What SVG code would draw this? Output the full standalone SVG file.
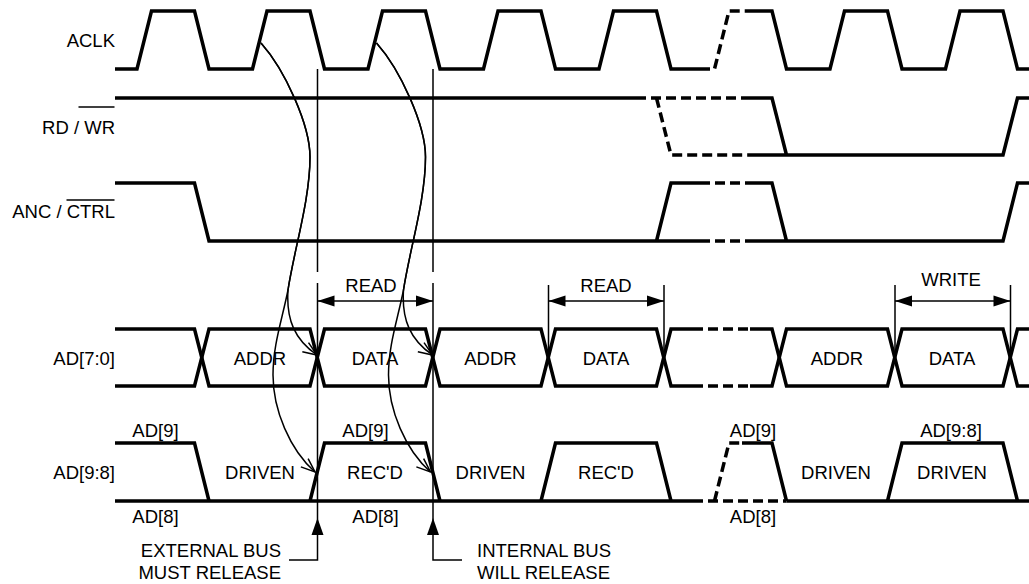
<svg xmlns="http://www.w3.org/2000/svg" width="1029" height="584" viewBox="0 0 1029 584">
<defs>
<style>
.sig{fill:none;stroke:#000;stroke-width:3.5;stroke-linejoin:miter;stroke-linecap:butt}
.dash{stroke-dasharray:10 5}
.thin{fill:none;stroke:#000;stroke-width:1.5}
text{font-family:"Liberation Sans",Arial,sans-serif;font-size:18.5px;fill:#000}
.e{text-anchor:end}
.m{text-anchor:middle}
</style>
<marker id="oa" viewBox="-16 -8 18 16" refX="0" refY="0" markerWidth="18" markerHeight="16" markerUnits="userSpaceOnUse" orient="auto">
<path d="M-14,-5.5 L0,0 L-14,5.5" fill="none" stroke="#000" stroke-width="1.5"/>
</marker>
<marker id="fa" viewBox="-18 -7 19 14" refX="0" refY="0" markerWidth="19" markerHeight="14" markerUnits="userSpaceOnUse" orient="auto-start-reverse">
<path d="M0,0 L-17,-5.5 L-17,5.5 Z" fill="#000"/>
</marker>
</defs>
<rect width="1029" height="584" fill="#fff"/>

<g id="labels">
<text class="e" x="115" y="47">ACLK</text>
<text class="e" x="115" y="133.5">RD / WR</text>
<line x1="78.5" y1="107" x2="114.5" y2="107" stroke="#000" stroke-width="1.3"/>
<text class="e" x="115" y="217.5">ANC / CTRL</text>
<line x1="66.5" y1="200" x2="114.5" y2="200" stroke="#000" stroke-width="1.3"/>
<text class="e" x="115" y="365">AD[7:0]</text>
<text class="e" x="115" y="479">AD[9:8]</text>
</g>

<g id="aclk">
<path class="sig" d="M115,69 H137 L151.5,11 H194.5 L209,69 H252.5 L267,11 H310 L324.5,69 H368 L382.5,11 H425.5 L440,69 H483.5 L498,11 H541 L555.5,69 H599 L613.5,11 H656.5 L671,69 H700"/>
<path class="sig dash" d="M700,69 H714.5 L729,11 H749"/>
<path class="sig" d="M749,11 H772 L786.5,69 H830 L844.5,11 H887.5 L902,69 H945.5 L960,11 H1003 L1017.5,69 H1029"/>
</g>

<g id="rdwr">
<path class="sig" d="M115,98 H636"/>
<path class="sig dash" d="M636,98 H749 M656.5,98 L671,155 H749"/>
<path class="sig" d="M749,98 H772 L786.5,155 M749,155 H1003 L1017.5,98 H1029"/>
</g>

<g id="anc">
<path class="sig" d="M115,183 H194.5 L209,241 H700 M656.5,241 L671,183 H700"/>
<path class="sig dash" d="M700,183 H749 M700,241 H749"/>
<path class="sig" d="M749,183 H772 L786.5,241 M749,241 H1003 L1017.5,183 H1029"/>
</g>

<g id="ad70">
<path class="sig" d="M115,329 H194.5 L209,386 H310 L324.5,329 H425.5 L440,386 H541 L555.5,329 H656.5 L671,386 H693"/>
<path class="sig" d="M115,386 H194.5 L209,329 H310 L324.5,386 H425.5 L440,329 H541 L555.5,386 H656.5 L671,329 H693"/>
<path class="sig dash" d="M693,329 H750 M693,386 H750"/>
<path class="sig" d="M750,329 H772 L786.5,386 H887.5 L902,329 H1003 L1017.5,386 H1029"/>
<path class="sig" d="M750,386 H772 L786.5,329 H887.5 L902,386 H1003 L1017.5,329 H1029"/>
<text class="m" x="260" y="364.5">ADDR</text>
<text class="m" x="375" y="364.5">DATA</text>
<text class="m" x="490.5" y="364.5">ADDR</text>
<text class="m" x="606" y="364.5">DATA</text>
<text class="m" x="837" y="364.5">ADDR</text>
<text class="m" x="952" y="364.5">DATA</text>
</g>

<g id="ad98">
<path class="sig" d="M115,501 H693 M786.5,501 H1029"/>
<path class="sig dash" d="M693,501 H786.5"/>
<path class="sig" d="M115,443 H194.5 L209,501 M310,501 L324.5,443 H425.5 L440,501 M541,501 L555.5,443 H656.5 L671,501 M742,443 H772 L786.5,501 M887.5,501 L902,443 H1003 L1017.5,501"/>
<path class="sig dash" d="M714.5,501 L729,443 H742"/>
<text class="m" x="260" y="479">DRIVEN</text>
<text class="m" x="375" y="479">REC'D</text>
<text class="m" x="490.5" y="479">DRIVEN</text>
<text class="m" x="606" y="479">REC'D</text>
<text class="m" x="836" y="479">DRIVEN</text>
<text class="m" x="952" y="479">DRIVEN</text>
<text class="m" x="155.5" y="437">AD[9]</text>
<text class="m" x="155.5" y="523">AD[8]</text>
<text class="m" x="365.5" y="437">AD[9]</text>
<text class="m" x="375.5" y="523">AD[8]</text>
<text class="m" x="753" y="437">AD[9]</text>
<text class="m" x="753" y="523">AD[8]</text>
<text class="m" x="951" y="437">AD[9:8]</text>
</g>

<g id="connectors">
<path class="thin" d="M317.5,69 V272 M317.5,283 V560 H289"/>
<path class="thin" d="M433,69 V272 M433,283 V560 H462"/>
<polygon points="317.5,518 311.5,535 323.5,535" fill="#000"/>
<polygon points="433,518 427,535 439,535" fill="#000"/>
<path class="thin" d="M548.5,285 V357 M664,285 V357 M895,285 V357 M1010.5,285 V357"/>
<line class="thin" x1="317.5" y1="301" x2="433" y2="301" marker-start="url(#fa)" marker-end="url(#fa)"/>
<line class="thin" x1="548.5" y1="301" x2="664" y2="301" marker-start="url(#fa)" marker-end="url(#fa)"/>
<line class="thin" x1="895" y1="301" x2="1010.5" y2="301" marker-start="url(#fa)" marker-end="url(#fa)"/>
<g id="curves1">
<path class="thin" d="M261,43 C285,70 310,125 310,157 C310,200 294,250 288,290 C286,320 295,340 317,355" marker-end="url(#oa)"/>
<path class="thin" d="M261,43 C285,70 310,125 310,157 C310,200 294,250 288,290 C282,320 273,345 273,375 C273,410 290,450 315,472" marker-end="url(#oa)"/>
</g>
<g id="curves2" transform="translate(115.5,0)">
<path class="thin" d="M261,43 C285,70 310,125 310,157 C310,200 294,250 288,290 C286,320 295,340 317,355" marker-end="url(#oa)"/>
<path class="thin" d="M261,43 C285,70 310,125 310,157 C310,200 294,250 288,290 C282,320 273,345 273,375 C273,410 290,450 315,472" marker-end="url(#oa)"/>
</g>
</g>

<g id="annotations">
<text class="m" x="371" y="291.5">READ</text>
<text class="m" x="606" y="291.5">READ</text>
<text class="m" x="951" y="286">WRITE</text>
<text class="e" x="281" y="557">EXTERNAL BUS</text>
<text class="e" x="281" y="579">MUST RELEASE</text>
<text x="477" y="557">INTERNAL BUS</text>
<text x="477" y="579">WILL RELEASE</text>
</g>
</svg>
